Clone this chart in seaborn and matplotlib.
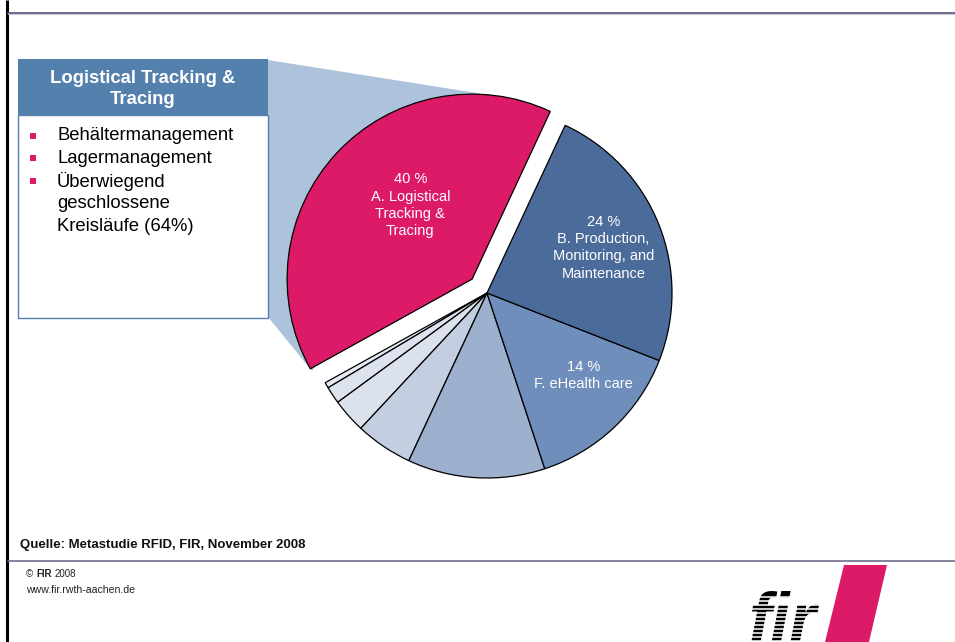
import matplotlib
matplotlib.use("Agg")
import matplotlib.pyplot as plt
from matplotlib.patches import Rectangle, Polygon
import numpy as np
import seaborn as sns

# ---------------- data ----------------
segments = ["A. Logistical Tracking & Tracing", "s1", "s2", "s3", "s4", "s5",
            "F. eHealth care", "B. Production, Monitoring, and Maintenance"]
shares = [40, 0.5, 1.5, 3, 5, 12, 14, 24]
slice_labels = ["40 %\nA. Logistical\nTracking &\nTracing", "", "", "", "", "",
                "14 %\nF. eHealth care", "24 %\nB. Production,\nMonitoring, and\nMaintenance"]
slice_colors = ["#DC1A68", "#E6EAF2", "#DDE3EE", "#DCE2ED", "#C3CEE0", "#9DB1CF",
                "#6F8EBB", "#4B6B9B"]
box_title = "Logistical Tracking &\nTracing"
bullets = [["Behältermanagement"], ["Lagermanagement"],
           ["Überwiegend", "geschlossene", "Kreisläufe (64%)"]]
source_text = "Quelle: Metastudie RFID, FIR, November 2008"
footer_year = "2008"
footer_url = "www.fir.rwth-aachen.de"

# ---------------- style ----------------
sns.set_theme(style="white")
plt.rcParams["font.family"] = ["Liberation Sans", "DejaVu Sans"]

W, H = 955, 642
fig = plt.figure(figsize=(W / 100, H / 100), dpi=100)
ax = fig.add_axes([0, 0, 1, 1])
ax.set_axis_off()

def Y(y):
    return H - y

MAG = "#DC1A68"
HEAD = "#5480AD"
R = 185

# page frame lines
ax.plot([7, 7], [0, H], color="black", lw=2.2, solid_capstyle="butt", zorder=5)
ax.plot([8, W], [Y(12.7), Y(12.7)], color="#5E5E82", lw=1.3, zorder=5)
ax.plot([8, W], [Y(14.3), Y(14.3)], color="#C8C8D8", lw=0.8, zorder=5)
ax.plot([8, W], [Y(560.5), Y(560.5)], color="#6E6E8C", lw=1.2, zorder=5)

# ---------------- callout polygon ----------------
poly = Polygon([(268, Y(60)), (483, Y(94)), (400, Y(250)), (312, Y(371)), (268, Y(317))],
               closed=True, facecolor="#ADC3DB", edgecolor="none", zorder=1)
ax.add_patch(poly)

# ---------------- pie ----------------
explode_frac = [0.11, 0, 0, 0, 0, 0, 0, 0]
wedges, _ = ax.pie(shares, colors=slice_colors, explode=[e * R for e in explode_frac],
                   startangle=65, counterclock=True, radius=R, center=(487, Y(293)),
                   frame=True, wedgeprops=dict(edgecolor="black", linewidth=0.9))
for w in wedges:
    w.set_zorder(2)

label_geom = {0: (-7, 0.52), 6: (6, 0.685), 7: (-0.5, 0.675)}
for i, w in enumerate(wedges):
    if not slice_labels[i]:
        continue
    dang, f = label_geom[i]
    mid = np.deg2rad((w.theta1 + w.theta2) / 2 + dang)
    cx, cy = w.center
    ax.text(cx + f * w.r * np.cos(mid), cy + f * w.r * np.sin(mid), slice_labels[i],
            ha="center", va="center", color="white", fontsize=10.5,
            linespacing=1.3, zorder=4)

# ---------------- info box ----------------
ax.add_patch(Rectangle((18, Y(318)), 250, 203, facecolor="white",
                       edgecolor=HEAD, lw=1.0, zorder=3))
ax.add_patch(Rectangle((18, Y(115)), 250, 56, facecolor=HEAD,
                       edgecolor="none", zorder=3))
ax.text(143, Y(89), box_title, ha="center", va="center", color="white",
        fontsize=13.3, fontweight="bold", linespacing=1.32, zorder=4)

line_y = 135.5
for item in bullets:
    ax.add_patch(Rectangle((30, Y(line_y) - 3), 6, 6, facecolor=MAG,
                           edgecolor="none", zorder=4))
    for ln in item:
        ax.text(57, Y(line_y), ln, ha="left", va="center", color="black",
                fontsize=13.3, zorder=4)
        line_y += 22.8

# ---------------- footer ----------------
ax.text(20, Y(545), source_text, ha="left", va="center", fontsize=9.5,
        fontweight="bold", color="#111111")
t1 = ax.text(26, Y(577), "©", ha="left", va="baseline", fontsize=7.0, color="#222222")
t2 = ax.annotate("FIR", xy=(1, 0), xycoords=t1, xytext=(2, 0), textcoords="offset points",
                 ha="left", va="bottom", fontsize=7.0, fontweight="bold", color="#222222")
ax.annotate(footer_year, xy=(1, 0), xycoords=t2, xytext=(2, 0), textcoords="offset points",
            ha="left", va="bottom", fontsize=7.0, color="#222222")
ax.text(26, Y(590), footer_url, ha="left", va="center", fontsize=7.6, color="#222222")

# ---------------- logo ----------------
ax.text(749, Y(641), "fir", ha="left", va="baseline", fontsize=49,
        fontweight="bold", fontstyle="italic", color="black", zorder=6)
for yy in np.arange(596.5, 645, 4.0):
    ax.plot([740, 835], [Y(yy), Y(yy)], color="white", lw=1.1, zorder=7)
ax.add_patch(Polygon([(844, Y(565)), (887, Y(565)), (869, Y(642)), (825, Y(642))],
                     closed=True, facecolor=MAG, edgecolor="none", zorder=8))

ax.set_xlim(0, W)
ax.set_ylim(0, H)
ax.set_aspect("auto")
fig.savefig("out.png", dpi=100)
